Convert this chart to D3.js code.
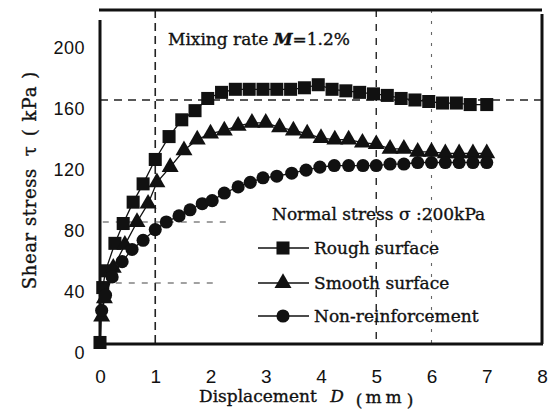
<!DOCTYPE html>
<html>
<head>
<meta charset="utf-8">
<script src="https://cdn.jsdelivr.net/npm/d3@7"></script>
<style>
  html, body { margin: 0; padding: 0; background: #fff; }
  svg { display: block; }
</style>
</head>
<body>
<svg id="chart" width="551" height="412"></svg>
<script>
// Shear stress vs. displacement, mixing rate M = 1.2 %, normal stress 200 kPa
const xTicks = [0, 1, 2, 3, 4, 5, 6, 7, 8];
const yTicks = [0, 40, 80, 120, 160, 200];

const roughD = [0, 0.05, 0.1, 0.27, 0.42, 0.6, 0.78, 1.0, 1.25, 1.48, 1.72, 1.95,
  2.2, 2.45, 2.7, 2.95, 3.2, 3.45, 3.7, 3.95, 4.2, 4.45, 4.7, 4.95, 5.2, 5.45, 5.7, 5.95, 6.2, 6.45, 6.7, 7.0];
const roughTau = [1, 37, 48, 66, 79, 93, 105, 121, 136, 147, 153, 161,
  165, 167, 167, 167, 167, 167, 168, 170, 167, 166, 165, 164, 163, 161, 160, 159, 158, 158, 157, 157];

const smoothD = [0.03, 0.08, 0.24, 0.45, 0.67, 0.87, 1.03, 1.27, 1.52, 1.76, 2.0,
  2.25, 2.5, 2.75, 3.0, 3.25, 3.5, 3.75, 4.0, 4.25, 4.5, 4.75, 5.0, 5.25, 5.5, 5.75, 6.0, 6.25, 6.5, 6.75, 7.0];
const smoothTau = [18, 30, 50, 65, 80, 92, 106, 116, 127, 134, 138,
  140, 143, 145, 145, 142, 140, 138, 135, 134, 134, 132, 131, 128, 128, 126, 126, 125, 125, 125, 125];

const plainD = [0.03, 0.1, 0.22, 0.4, 0.58, 0.78, 1.0, 1.2, 1.43, 1.63, 1.85, 2.03,
  2.25, 2.5, 2.72, 2.95, 3.2, 3.47, 3.73, 3.98, 4.24, 4.5, 4.76, 5.0, 5.25, 5.5, 5.75, 6.0, 6.25, 6.5, 6.75, 7.0];
const plainTau = [22, 32, 44, 54, 62, 68, 75, 80, 84, 88, 92, 94,
  99, 103, 106, 109, 110, 112, 114, 116, 117, 117, 117, 117, 118, 118, 119, 119, 119, 119, 119, 119];

const seriesNames = ["Rough surface", "Smooth surface", "Non-reinforcement"];

const svg = d3.select("#chart");
const serif = "'DejaVu Serif', 'Liberation Serif', serif";
const sans = "'Liberation Sans', Arial, sans-serif";
const ink = "#111";

const x = d3.scaleLinear().domain([0, 8]).range([100, 542]);
const y = d3.scaleLinear().domain([0, 219]).range([344, 10]);

// heavier text, like a printed figure
function inked(sel) {
  return sel.attr("fill", ink).attr("stroke", ink).attr("stroke-width", 0.35);
}

// reference grid lines (dashed)
const grid = svg.append("g").attr("stroke", "#222").attr("fill", "none");
grid.append("line").attr("x1", x(1)).attr("x2", x(1)).attr("y1", y(219)).attr("y2", y(0))
  .attr("stroke-width", 1.6).attr("stroke-dasharray", "8,5");
grid.append("line").attr("x1", x(5)).attr("x2", x(5)).attr("y1", y(219)).attr("y2", y(0))
  .attr("stroke-width", 1.4).attr("stroke-dasharray", "7,7");
grid.append("line").attr("x1", x(6)).attr("x2", x(6)).attr("y1", y(219)).attr("y2", y(0))
  .attr("stroke-width", 1.1).attr("stroke-dasharray", "3,8").attr("stroke", "#666");
grid.append("line").attr("x1", x(0)).attr("x2", x(8)).attr("y1", y(160)).attr("y2", y(160))
  .attr("stroke-width", 1.4).attr("stroke-dasharray", "8,6");
grid.append("line").attr("x1", x(0.05)).attr("x2", x(2.3)).attr("y1", y(80)).attr("y2", y(80))
  .attr("stroke-width", 1.1).attr("stroke-dasharray", "6,7").attr("stroke", "#444");
grid.append("line").attr("x1", x(0.05)).attr("x2", x(2.1)).attr("y1", y(40)).attr("y2", y(40))
  .attr("stroke-width", 1.1).attr("stroke-dasharray", "6,7").attr("stroke", "#444");

// frame
const frame = svg.append("g").attr("stroke", ink).attr("fill", "none");
frame.append("line").attr("x1", x(0) - 1).attr("x2", x(8)).attr("y1", y(219)).attr("y2", y(219)).attr("stroke-width", 3);
frame.append("line").attr("x1", x(8)).attr("x2", x(8)).attr("y1", y(219) + 4).attr("y2", y(0)).attr("stroke-width", 3);
frame.append("line").attr("x1", x(0)).attr("x2", x(8) + 1).attr("y1", y(0)).attr("y2", y(0)).attr("stroke-width", 3);
frame.append("line").attr("x1", x(0)).attr("x2", x(0)).attr("y1", y(219) + 10).attr("y2", y(0)).attr("stroke-width", 3);

// axes (labels only, the frame supplies the lines)
const yAxis = svg.append("g").attr("transform", `translate(${x(0)},0)`)
  .call(d3.axisLeft(y).tickValues(yTicks).tickSize(0).tickPadding(15));
yAxis.select(".domain").remove();
yAxis.selectAll("text").attr("font-family", sans).attr("font-size", 18)
  .attr("fill", ink).attr("dy", "0.8em").attr("letter-spacing", 0.5);

const xAxis = svg.append("g").attr("transform", `translate(0,${y(0)})`)
  .call(d3.axisBottom(x).tickValues(xTicks).tickSize(0).tickPadding(26));
xAxis.select(".domain").remove();
xAxis.selectAll("text").attr("font-family", sans).attr("font-size", 19).attr("fill", ink);

// series
const series = [
  { name: seriesNames[0], d: roughD, t: roughTau, sym: d3.symbolSquare, size: 170 },
  { name: seriesNames[1], d: smoothD, t: smoothTau, sym: d3.symbolTriangle, size: 125 },
  { name: seriesNames[2], d: plainD, t: plainTau, sym: d3.symbolCircle, size: 135 }
];
const line = d3.line().x(p => x(p[0])).y(p => y(p[1]));

series.forEach(s => {
  const pts = s.d.map((v, i) => [v, s.t[i]]);
  svg.append("path").datum(pts).attr("d", line)
    .attr("fill", "none").attr("stroke", ink).attr("stroke-width", 1.3);
  svg.append("g").selectAll("path").data(pts).join("path")
    .attr("transform", p => `translate(${x(p[0])},${y(p[1])})`)
    .attr("d", d3.symbol().type(s.sym).size(s.size))
    .attr("fill", ink);
});

// title text
const title = inked(svg.append("text").attr("x", 168).attr("y", 45)
  .attr("font-family", serif).attr("font-size", 17));
title.append("tspan").text("Mixing rate ");
title.append("tspan").attr("font-style", "italic").attr("font-weight", "bold").text("M");
title.append("tspan").text("=1.2%");

// legend
inked(svg.append("text").attr("x", 272).attr("y", 220)
  .attr("font-family", serif).attr("font-size", 17))
  .text("Normal stress σ :200kPa");

const legendY = [248, 283, 316];
series.forEach((s, i) => {
  const g = svg.append("g").attr("transform", `translate(0,${legendY[i]})`);
  g.append("line").attr("x1", 258).attr("x2", 309).attr("y1", 0).attr("y2", 0)
    .attr("stroke", ink).attr("stroke-width", 1.6);
  g.append("path").attr("transform", "translate(283,0)")
    .attr("d", d3.symbol().type(s.sym).size(s.size)).attr("fill", ink);
  inked(g.append("text").attr("x", 314).attr("y", 6)
    .attr("font-family", serif).attr("font-size", 17))
    .text(s.name);
});

// axis titles
const xt = inked(svg.append("text").attr("x", 199).attr("y", 402)
  .attr("font-family", serif).attr("font-size", 17));
xt.append("tspan").text("Displacement ");
xt.append("tspan").attr("font-style", "italic").attr("dx", 8).text("D");
xt.append("tspan").attr("dx", 12).attr("dy", 4).text("(");
xt.append("tspan").attr("dx", 3).attr("dy", -3).attr("letter-spacing", 4).text("mm");
xt.append("tspan").attr("dx", 1).attr("dy", 3).text(")");

const yt = inked(svg.append("text")
  .attr("transform", "translate(36,180) rotate(-90)")
  .attr("text-anchor", "middle")
  .attr("font-family", serif).attr("font-size", 18));
yt.append("tspan").attr("letter-spacing", 0.6).text("Shear stress");
yt.append("tspan").attr("dx", 12).text("τ");
yt.append("tspan").attr("dx", 10).attr("letter-spacing", 1).text("( kPa )");
</script>
</body>
</html>
